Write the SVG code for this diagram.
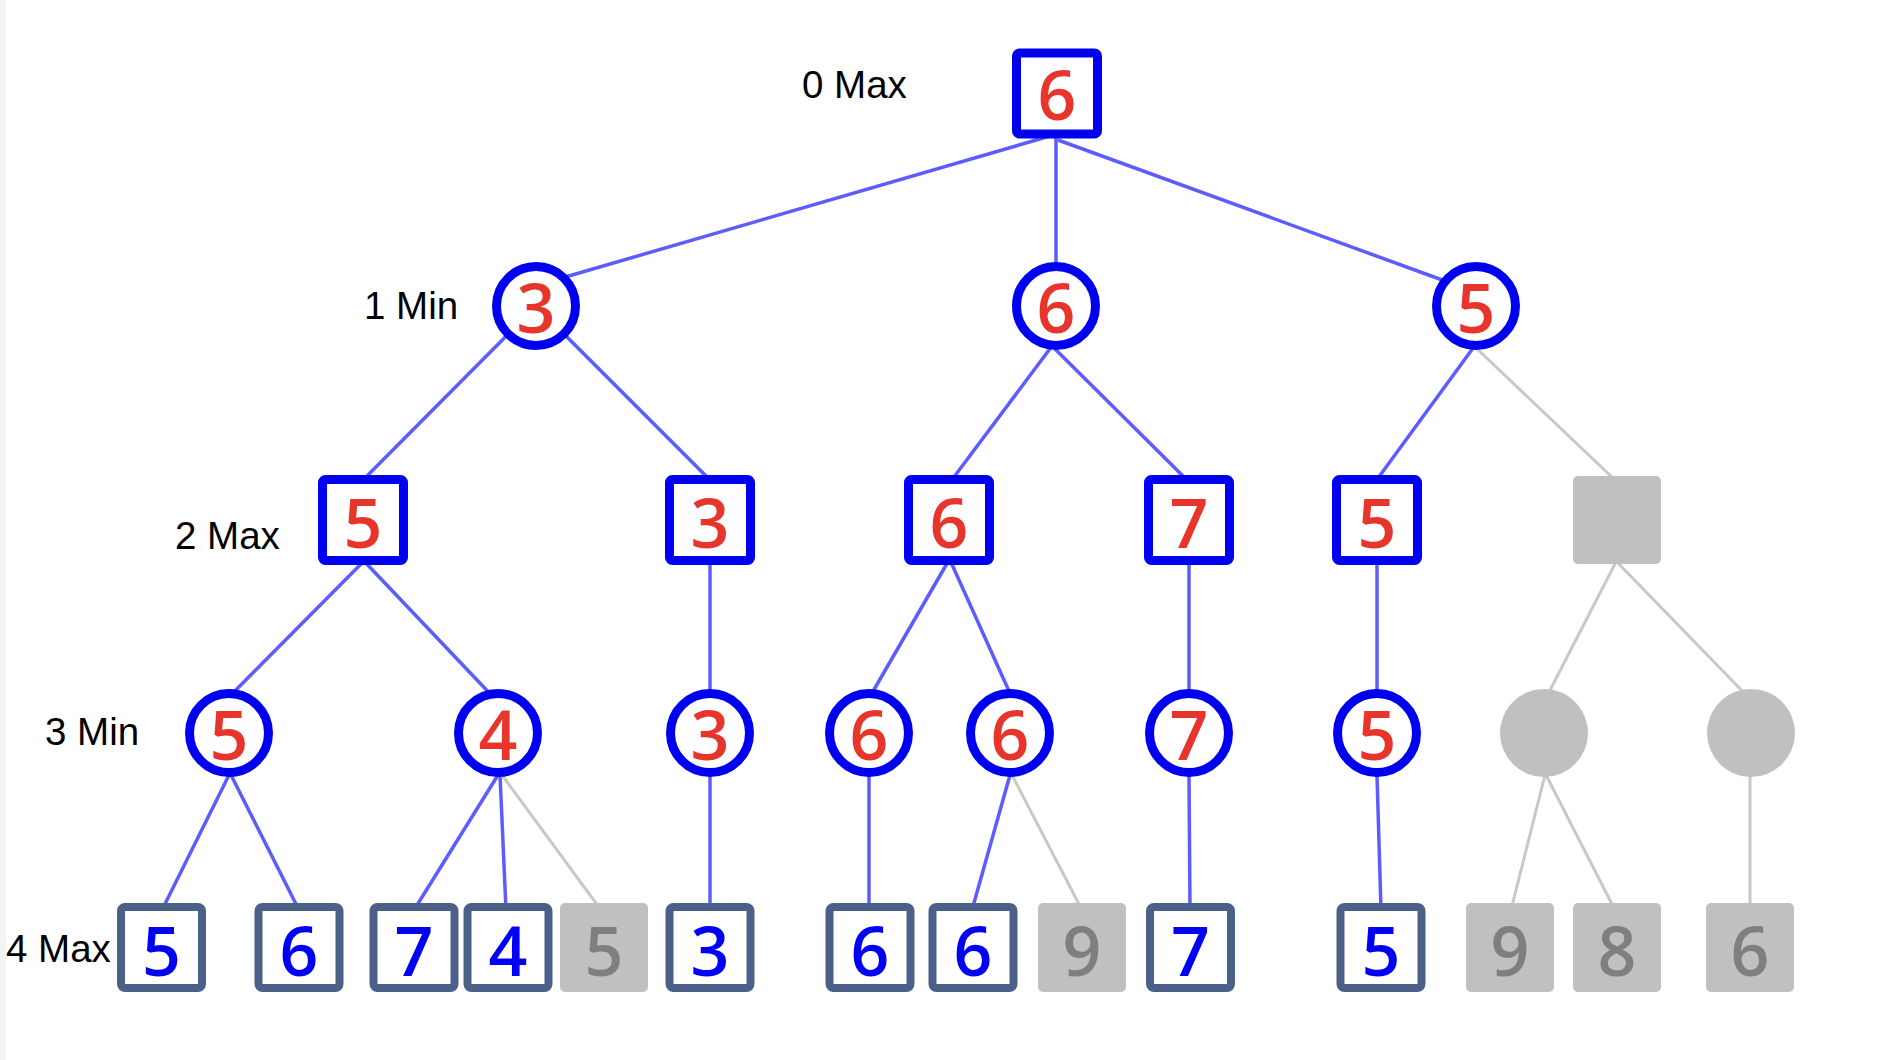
<svg xmlns="http://www.w3.org/2000/svg" width="1898" height="1060" viewBox="0 0 1898 1060">
  <style>
    .lbl { font-family: "Liberation Sans", Arial, sans-serif; font-size: 38.5px; fill: #000; }
    .val { font-family: "Open Sans", "DejaVu Sans", sans-serif; font-size: 68px; font-weight: 600; text-anchor: middle; }
    .red { fill: #e8352c; }
    .blu { fill: #0000f5; }
    .gry { fill: #7f7f7f; }
    .sq { fill: #fff; stroke: #0000f0; stroke-width: 9; }
    .ci { fill: #fff; stroke: #0000f0; stroke-width: 9; }
    .leaf { fill: #fff; stroke: #4a6088; stroke-width: 8; }
    .off { fill: #c0c0c0; }
    .e { stroke: #5c5cff; stroke-width: 3.5; fill: none; }
    .eg { stroke: #c8c8c8; stroke-width: 3; fill: none; }
  </style>

  <rect x="0" y="0" width="1898" height="1060" fill="#fff"/>
  <rect x="0" y="0" width="6" height="1060" fill="#f3f5f5"/>

  <!-- depth labels -->
  <g id="labels">
    <text class="lbl" x="802" y="98">0 Max</text>
    <text class="lbl" x="364" y="319">1 Min</text>
    <text class="lbl" x="175" y="549">2 Max</text>
    <text class="lbl" x="45" y="745">3 Min</text>
    <text class="lbl" x="6" y="962">4 Max</text>
  </g>

  <!-- tree edges -->
  <g id="connectors">
    <line class="e" x1="1050" y1="136" x2="555" y2="280"/>
    <line class="e" x1="1056" y1="136" x2="1056" y2="270"/>
    <line class="e" x1="1058" y1="140" x2="1445" y2="281"/>

    <line class="e" x1="536" y1="306" x2="363" y2="480"/>
    <line class="e" x1="536" y1="306" x2="710" y2="480"/>
    <line class="e" x1="1058" y1="338" x2="948" y2="485"/>
    <line class="e" x1="1050" y1="344" x2="1190" y2="483"/>
    <line class="e" x1="1476" y1="344" x2="1373" y2="485"/>
    <line class="eg" x1="1474" y1="346" x2="1615" y2="480"/>

    <line class="e" x1="365" y1="560" x2="226" y2="700"/>
    <line class="e" x1="363" y1="560" x2="496" y2="700"/>
    <line class="e" x1="710" y1="560" x2="710" y2="700"/>
    <line class="e" x1="949" y1="560" x2="868" y2="700"/>
    <line class="e" x1="950" y1="560" x2="1013" y2="700"/>
    <line class="e" x1="1189" y1="560" x2="1189" y2="700"/>
    <line class="e" x1="1377" y1="560" x2="1377" y2="700"/>
    <line class="eg" x1="1617" y1="560" x2="1545" y2="700"/>
    <line class="eg" x1="1615" y1="560" x2="1751" y2="700"/>

    <line class="e" x1="229" y1="775" x2="162" y2="910"/>
    <line class="e" x1="231" y1="775" x2="299" y2="910"/>
    <line class="e" x1="498" y1="775" x2="414" y2="910"/>
    <line class="e" x1="500" y1="775" x2="506" y2="910"/>
    <line class="eg" x1="502" y1="775" x2="601" y2="910"/>
    <line class="e" x1="710" y1="775" x2="710" y2="910"/>
    <line class="e" x1="869" y1="775" x2="869" y2="910"/>
    <line class="e" x1="1010" y1="775" x2="972" y2="910"/>
    <line class="eg" x1="1012" y1="775" x2="1082" y2="910"/>
    <line class="e" x1="1189" y1="775" x2="1190" y2="910"/>
    <line class="e" x1="1377" y1="775" x2="1381" y2="910"/>
    <line class="eg" x1="1545" y1="775" x2="1511" y2="910"/>
    <line class="eg" x1="1546" y1="775" x2="1615" y2="910"/>
    <line class="eg" x1="1750" y1="775" x2="1750" y2="910"/>
  </g>

  <!-- depth 0 -->
  <g id="n-root">
    <rect class="sq" x="1016.5" y="53" width="81" height="81" rx="3"/>
    <text class="val red" x="1057" y="120">6</text>
  </g>

  <!-- depth 1 -->
  <g id="n-a">
    <circle class="ci" cx="536" cy="306" r="39.5"/>
    <text class="val red" x="536" y="333">3</text>
  </g>
  <g id="n-b">
    <circle class="ci" cx="1056" cy="306" r="39.5"/>
    <text class="val red" x="1056" y="333">6</text>
  </g>
  <g id="n-c">
    <circle class="ci" cx="1476" cy="306" r="39.5"/>
    <text class="val red" x="1476" y="333">5</text>
  </g>

  <!-- depth 2 -->
  <g id="n-aa">
    <rect class="sq" x="322.5" y="479.5" width="81" height="81" rx="3"/>
    <text class="val red" x="363" y="548">5</text>
  </g>
  <g id="n-ab">
    <rect class="sq" x="669.5" y="479.5" width="81" height="81" rx="3"/>
    <text class="val red" x="710" y="548">3</text>
  </g>
  <g id="n-ba">
    <rect class="sq" x="908.5" y="479.5" width="81" height="81" rx="3"/>
    <text class="val red" x="949" y="548">6</text>
  </g>
  <g id="n-bb">
    <rect class="sq" x="1148.5" y="479.5" width="81" height="81" rx="3"/>
    <text class="val red" x="1189" y="548">7</text>
  </g>
  <g id="n-ca">
    <rect class="sq" x="1336.5" y="479.5" width="81" height="81" rx="3"/>
    <text class="val red" x="1377" y="548">5</text>
  </g>
  <g id="n-cb">
    <rect class="off" x="1573" y="476" width="88" height="88" rx="5"/>
  </g>

  <!-- depth 3 -->
  <g id="n-aaa">
    <circle class="ci" cx="229" cy="733" r="39.5"/>
    <text class="val red" x="229" y="760">5</text>
  </g>
  <g id="n-aab">
    <circle class="ci" cx="498" cy="733" r="39.5"/>
    <text class="val red" x="498" y="760">4</text>
  </g>
  <g id="n-aba">
    <circle class="ci" cx="710" cy="733" r="39.5"/>
    <text class="val red" x="710" y="760">3</text>
  </g>
  <g id="n-baa">
    <circle class="ci" cx="869" cy="733" r="39.5"/>
    <text class="val red" x="869" y="760">6</text>
  </g>
  <g id="n-bab">
    <circle class="ci" cx="1010" cy="733" r="39.5"/>
    <text class="val red" x="1010" y="760">6</text>
  </g>
  <g id="n-bba">
    <circle class="ci" cx="1189" cy="733" r="39.5"/>
    <text class="val red" x="1189" y="760">7</text>
  </g>
  <g id="n-caa">
    <circle class="ci" cx="1377" cy="733" r="39.5"/>
    <text class="val red" x="1377" y="760">5</text>
  </g>
  <g id="n-cba">
    <circle class="off" cx="1544" cy="733" r="44"/>
  </g>
  <g id="n-cbb">
    <circle class="off" cx="1751" cy="733" r="44"/>
  </g>

  <!-- depth 4 (leaves) -->
  <g id="l-1">
    <rect class="leaf" x="121" y="907" width="81" height="81" rx="4"/>
    <text class="val blu" x="161.5" y="976">5</text>
  </g>
  <g id="l-2">
    <rect class="leaf" x="258.5" y="907" width="81" height="81" rx="4"/>
    <text class="val blu" x="299" y="976">6</text>
  </g>
  <g id="l-3">
    <rect class="leaf" x="373.5" y="907" width="81" height="81" rx="4"/>
    <text class="val blu" x="414" y="976">7</text>
  </g>
  <g id="l-4">
    <rect class="leaf" x="467.5" y="907" width="81" height="81" rx="4"/>
    <text class="val blu" x="508" y="976">4</text>
  </g>
  <g id="l-5">
    <rect class="off" x="560" y="903" width="88" height="89" rx="5"/>
    <text class="val gry" x="604" y="976">5</text>
  </g>
  <g id="l-6">
    <rect class="leaf" x="669.5" y="907" width="81" height="81" rx="4"/>
    <text class="val blu" x="710" y="976">3</text>
  </g>
  <g id="l-7">
    <rect class="leaf" x="829.5" y="907" width="81" height="81" rx="4"/>
    <text class="val blu" x="870" y="976">6</text>
  </g>
  <g id="l-8">
    <rect class="leaf" x="932.5" y="907" width="81" height="81" rx="4"/>
    <text class="val blu" x="973" y="976">6</text>
  </g>
  <g id="l-9">
    <rect class="off" x="1038" y="903" width="88" height="89" rx="5"/>
    <text class="val gry" x="1082" y="976">9</text>
  </g>
  <g id="l-10">
    <rect class="leaf" x="1150" y="907" width="81" height="81" rx="4"/>
    <text class="val blu" x="1190.5" y="976">7</text>
  </g>
  <g id="l-11">
    <rect class="leaf" x="1340.5" y="907" width="81" height="81" rx="4"/>
    <text class="val blu" x="1381" y="976">5</text>
  </g>
  <g id="l-12">
    <rect class="off" x="1466" y="903" width="88" height="89" rx="5"/>
    <text class="val gry" x="1510" y="976">9</text>
  </g>
  <g id="l-13">
    <rect class="off" x="1573" y="903" width="88" height="89" rx="5"/>
    <text class="val gry" x="1617" y="976">8</text>
  </g>
  <g id="l-14">
    <rect class="off" x="1706" y="903" width="88" height="89" rx="5"/>
    <text class="val gry" x="1750" y="976">6</text>
  </g>
</svg>
